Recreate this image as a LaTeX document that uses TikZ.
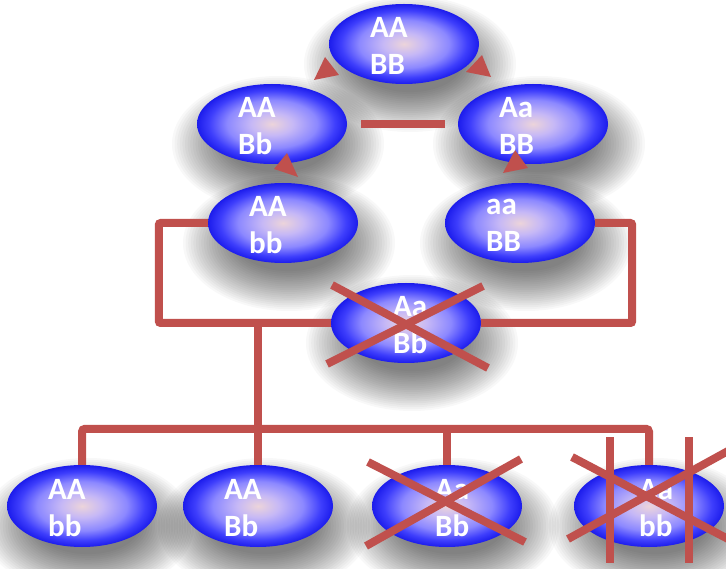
\documentclass[tikz,border=0pt]{standalone}
\usepackage{fontspec}
\setmainfont{Carlito}
\usetikzlibrary{shapes.geometric}

\definecolor{linkred}{RGB}{192,80,77}
\definecolor{gcore}{RGB}{236,212,218}
\definecolor{glav}{RGB}{198,184,246}
\definecolor{gmid}{RGB}{140,136,255}
\definecolor{gblue}{RGB}{62,62,252}
\definecolor{gedge}{RGB}{28,28,236}

% soft peach centre fading to a strong blue rim
\pgfdeclareradialshading{genoshade}{\pgfpoint{0bp}{0bp}}{%
  color(0bp)=(gcore); color(7bp)=(glav); color(15bp)=(gmid);
  color(21bp)=(gblue); color(25bp)=(gedge); color(50bp)=(gedge)}

\begin{document}
\begin{tikzpicture}[x=1pt,y=-1pt,
  geno/.style={ellipse, minimum width=150pt, minimum height=80pt, inner sep=0pt,
    shading=genoshade},
  gtxt/.style={anchor=west, inner sep=0pt, align=left, text=white,
    font=\fontsize{31}{37}\selectfont\bfseries},
  link/.style={draw=linkred, line width=8pt},
  tip/.style={fill=linkred},
]
\fill[white] (0,0) rectangle (726,569);
\useasboundingbox (0,0) rectangle (726,569);

% ---- soft drop shadows: stacked translucent ellipses ----
\foreach \cx/\cy in {404/44,272/124,533/124,283/223,520/223,406/323,
                     82/506,258/506,447/506,649/506}
  \foreach \k in {0,...,21}
    \fill[black, fill opacity=0.028]
      (\cx+6,\cy+20) ellipse [x radius={106pt-2.6pt*\k}, y radius={68pt-1.9pt*\k}];

% ---- genotype ellipses ----
\node[geno] (top) at (404,44) {};
\node[geno] (l1)  at (272,124) {};
\node[geno] (r1)  at (533,124) {};
\node[geno] (l2)  at (283,223) {};
\node[geno] (r2)  at (520,223) {};
\node[geno] (mid) at (406,323) {};
\node[geno, minimum height=82pt] (b1) at (82,506) {};
\node[geno, minimum height=82pt] (b2) at (258,506) {};
\node[geno, minimum height=82pt] (b3) at (447,506) {};
\node[geno, minimum height=82pt] (b4) at (649,506) {};

% ---- connectors ----
\draw[link, shorten <=14pt, shorten >=13pt] (l1.east) -- (r1.west);
\draw[link, rounded corners=2pt] (l2.west) -- ++(-49,0) |- (mid.west);
\draw[link, rounded corners=2pt] (r2.east) -- ++(37,0) |- (mid.east);
\coordinate (trunk) at (258,326);
\draw[link] (trunk) -- (b2.north);
\draw[link, rounded corners=3pt] (b1.north) -- ++(0,-36) -| (b4.north);
\draw[link] (b3.north) -- ++(0,-36);

% ---- arrow heads around the cycle ----
\fill[tip] (325,57) -- (314,80) -- (339,75) -- cycle;
\fill[tip] (482,55) -- (466,72) -- (491,77) -- cycle;
\fill[tip] (287,153) -- (274,169) -- (298,177) -- cycle;
\fill[tip] (515,150) -- (503,173) -- (528,168) -- cycle;

% ---- genotype labels ----
\node[gtxt] (ttop) at ([xshift=-34pt,yshift=-2pt]top.center) {AA\\BB};
\node[gtxt] (tl1)  at ([xshift=-34pt,yshift=-2pt]l1.center)  {AA\\Bb};
\node[gtxt] (tr1)  at ([xshift=-34pt,yshift=-2pt]r1.center)  {Aa\\BB};
\node[gtxt] (tl2)  at ([xshift=-34pt,yshift=-2pt]l2.center)  {AA\\bb};
\node[gtxt] (tr2)  at ([xshift=-34pt,yshift=-2pt]r2.center)  {aa\\BB};
\node[gtxt] (tmid) at ([xshift=-13pt,yshift=-2pt]mid.center) {Aa\\Bb};
\node[gtxt] (tb1)  at ([xshift=-34pt,yshift=-2pt]b1.center)  {AA\\bb};
\node[gtxt] (tb2)  at ([xshift=-34pt,yshift=-2pt]b2.center)  {AA\\Bb};
\node[gtxt] (tb3)  at ([xshift=-12pt,yshift=-2pt]b3.center)  {Aa\\Bb};
\node[gtxt] (tb4)  at ([xshift=-10pt,yshift=-2pt]b4.center)  {Aa\\bb};

% ---- strike-outs ----
\draw[link] (332,285) -- (488,368);
\draw[link] (483,286) -- (327,364);
\draw[link] (368,462) -- (525,542);
\draw[link] (521,459) -- (366,546);
\draw[link] (572,457) -- (730,540);
\draw[link] (568,539) -- (728,451);
\draw[link] (610,437) -- (610,563);
\draw[link] (689,437) -- (689,563);
\end{tikzpicture}
\end{document}
